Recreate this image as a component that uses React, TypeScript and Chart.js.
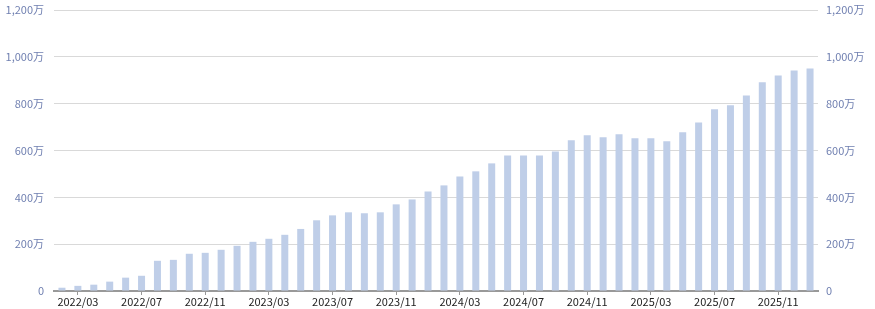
import React, { useEffect, useRef } from "react";
import { Chart, registerables } from "chart.js";

Chart.register(...registerables);

const months: string[] = [
  "2022/02","2022/03","2022/04","2022/05","2022/06","2022/07","2022/08","2022/09","2022/10","2022/11","2022/12",
  "2023/01","2023/02","2023/03","2023/04","2023/05","2023/06","2023/07","2023/08","2023/09","2023/10","2023/11","2023/12",
  "2024/01","2024/02","2024/03","2024/04","2024/05","2024/06","2024/07","2024/08","2024/09","2024/10","2024/11","2024/12",
  "2025/01","2025/02","2025/03","2025/04","2025/05","2025/06","2025/07","2025/08","2025/09","2025/10","2025/11","2025/12",
  "2026/01",
];

// 単位: 万
const values: number[] = [
  14, 22, 27, 40, 57, 65, 129, 133, 159, 163, 176,
  193, 210, 223, 240, 265, 302, 323, 336, 332, 336, 370, 391,
  425, 451, 489, 511, 545, 579, 579, 579, 596, 644, 665, 657,
  669, 652, 652, 640, 678, 720, 776, 793, 835, 891, 920, 942,
  950,
];

const yTicks: number[] = [0, 200, 400, 600, 800, 1000, 1200];

const fmt = (v: number) => (v === 0 ? "0" : v.toLocaleString("en-US") + "万");
const isLabeled = (i: number) => (i - 1) % 4 === 0;

export default function App() {
  const ref = useRef<HTMLCanvasElement | null>(null);

  useEffect(() => {
    document.body.style.margin = "0";
    const canvas = ref.current;
    if (!canvas) return;
    const font = { family: "'Noto Sans CJK JP', 'Noto Sans', sans-serif", size: 11 };
    const chart = new Chart(canvas, {
      type: "bar",
      data: {
        labels: months,
        datasets: [
          {
            data: values,
            backgroundColor: "#bfcee8",
            barPercentage: 0.44,
            categoryPercentage: 1,
            yAxisID: "y",
          },
        ],
      },
      options: {
        animation: false,
        responsive: false,
        maintainAspectRatio: false,
        layout: { padding: { top: 10, left: 0, right: 0, bottom: 0 } },
        plugins: { legend: { display: false }, tooltip: { enabled: false } },
        scales: {
          x: {
            offset: true,
            grid: {
              offset: false,
              drawOnChartArea: false,
              drawTicks: true,
              tickLength: 4,
              color: (c: any) => (isLabeled(c.index) ? "#999999" : "rgba(0,0,0,0)"),
            },
            border: { display: true, color: "#999999", width: 2 },
            ticks: {
              autoSkip: false,
              maxRotation: 0,
              minRotation: 0,
              padding: 0,
              color: "#222222",
              font,
              callback: (_v: any, i: number) => (isLabeled(i) ? months[i] : ""),
            },
            afterFit: (s: any) => {
              s.height = 18;
              s.paddingLeft = 0;
              s.paddingRight = 0;
            },
          },
          y: {
            position: "left",
            min: 0,
            max: 1200,
            afterBuildTicks: (s: any) => {
              s.ticks = yTicks.map((v) => ({ value: v }));
            },
            grid: { color: "#d9d9d9", lineWidth: 1, drawTicks: false },
            border: { display: false },
            ticks: { padding: 10, color: "#6f7fb0", font, callback: (v: any) => fmt(Number(v)) },
            afterFit: (s: any) => {
              s.width = 54;
              s.paddingTop = 0;
              s.paddingBottom = 0;
            },
          },
          y2: {
            position: "right",
            min: 0,
            max: 1200,
            afterBuildTicks: (s: any) => {
              s.ticks = yTicks.map((v) => ({ value: v }));
            },
            grid: { display: false, drawTicks: false },
            border: { display: false },
            ticks: { padding: 8, color: "#6f7fb0", font, callback: (v: any) => fmt(Number(v)) },
            afterFit: (s: any) => {
              s.width = 57;
              s.paddingTop = 0;
              s.paddingBottom = 0;
            },
          },
        },
      },
    });
    return () => chart.destroy();
  }, []);

  return (
    <div style={{ width: 875, height: 309 }}>
      <canvas ref={ref} width={875} height={309} style={{ display: "block" }} />
    </div>
  );
}
